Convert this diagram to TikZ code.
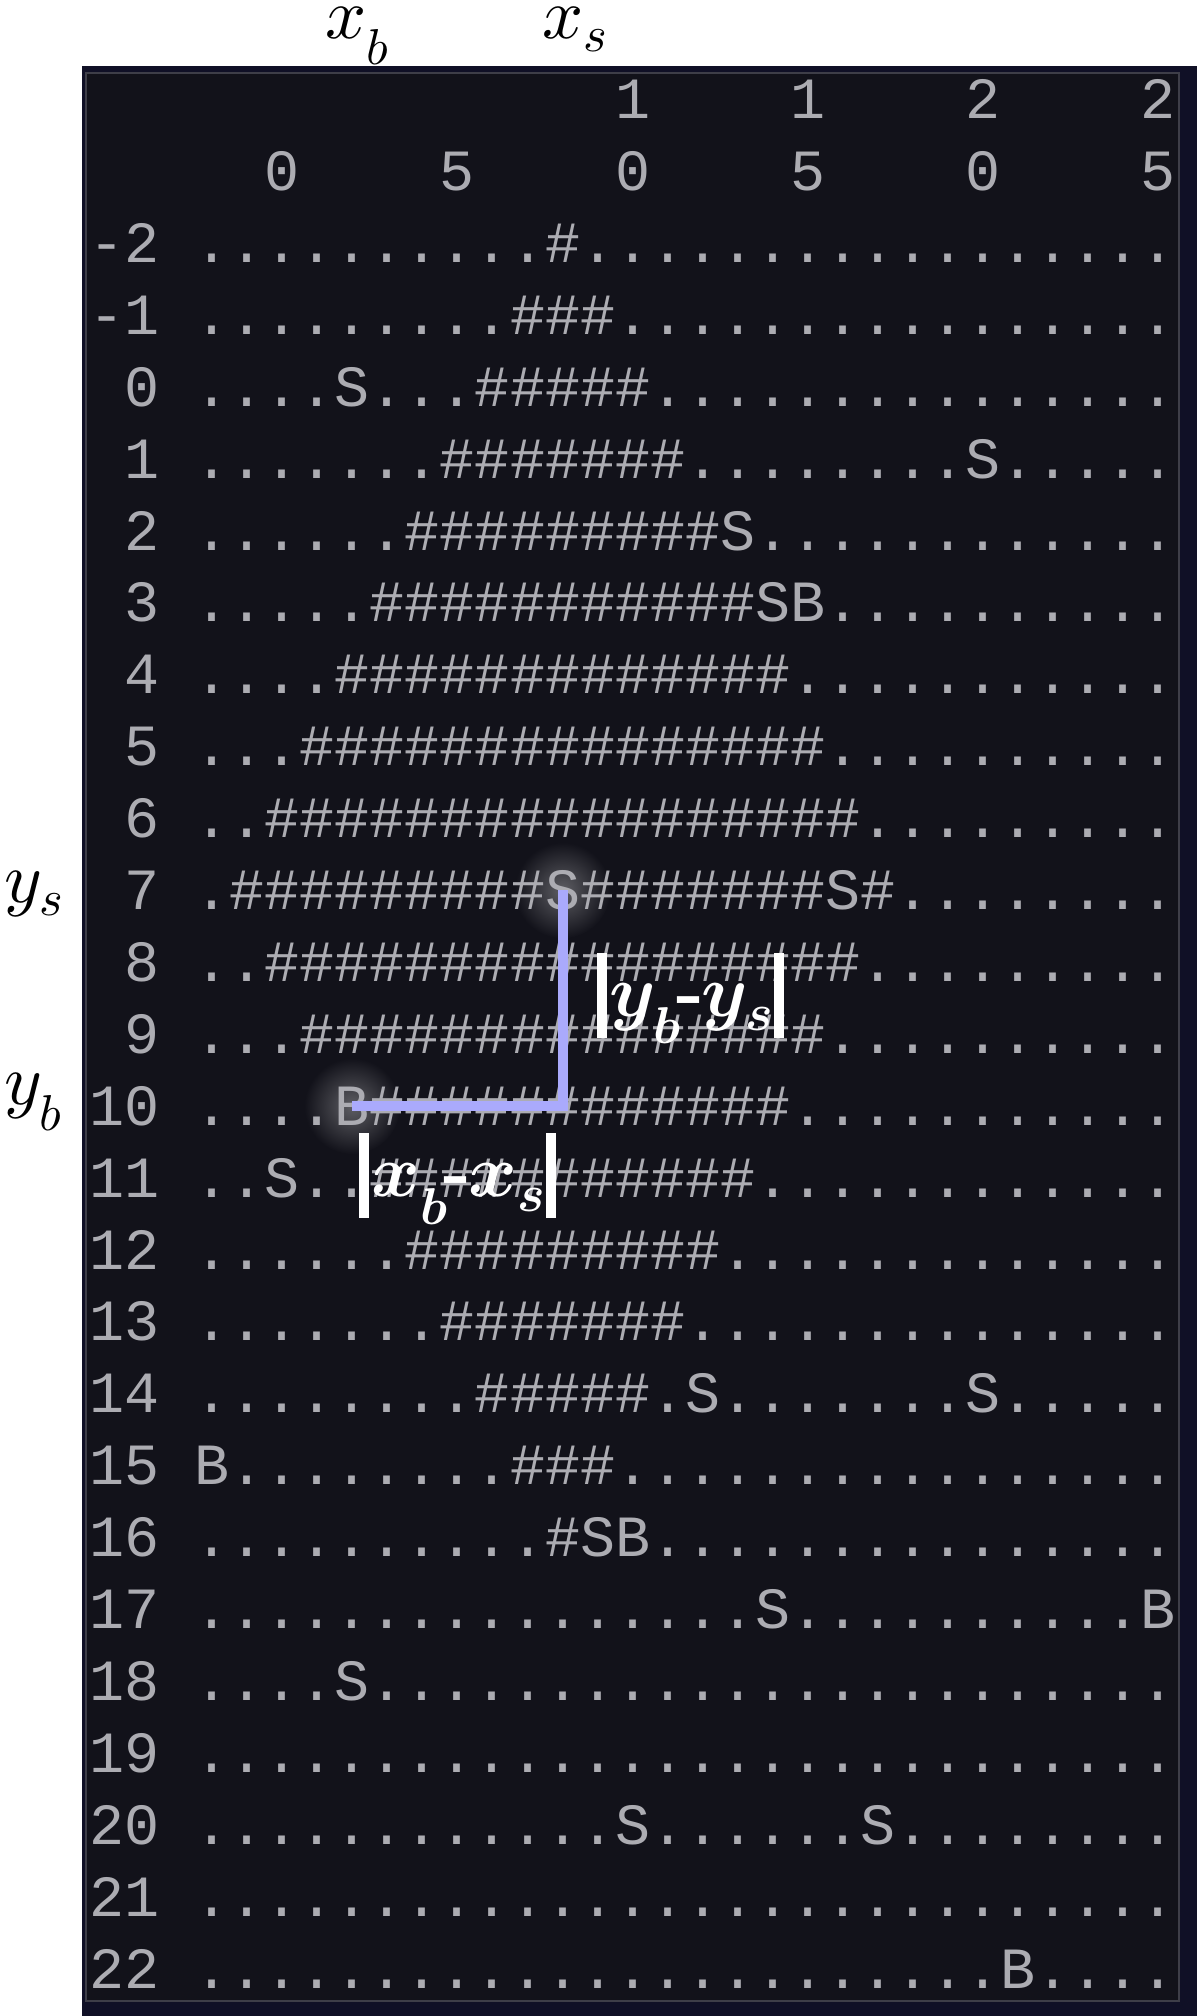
\documentclass[tikz,border=0pt]{standalone}
\usepackage{amsmath}
\usepackage{fontspec}
\usepackage{xcolor}
\usetikzlibrary{positioning}
% scalable math letters for the big labels
\DeclareFontShape{OML}{cmm}{m}{it}{<->cmmi10}{}
\DeclareFontShape{OML}{cmm}{b}{it}{<->cmmib10}{}
\newfontfamily\termfont{Liberation Mono}
\definecolor{termbg}{RGB}{18,18,26}
\definecolor{termframe}{RGB}{16,16,38}
\definecolor{termline}{RGB}{62,62,72}
\definecolor{termtext}{RGB}{172,172,178}
\definecolor{distblue}{RGB}{170,170,252}
% sensors and beacons, by column and row
\newcommand{\setcell}[3]{\expandafter\def\csname cell#1:#2\endcsname{#3}}
\setcell{2}{18}{S}\setcell{9}{16}{S}\setcell{13}{2}{S}\setcell{12}{14}{S}
\setcell{10}{20}{S}\setcell{14}{17}{S}\setcell{8}{7}{S}\setcell{2}{0}{S}
\setcell{0}{11}{S}\setcell{20}{14}{S}\setcell{17}{20}{S}\setcell{16}{7}{S}
\setcell{14}{3}{S}\setcell{20}{1}{S}
\setcell{-2}{15}{B}\setcell{10}{16}{B}\setcell{15}{3}{B}\setcell{2}{10}{B}
\setcell{25}{17}{B}\setcell{21}{22}{B}
\tikzset{
  termtxt/.style={termtext, inner sep=0pt, font=\termfont\fontsize{58.37}{70}\selectfont},
  cellchar/.style={termtxt, anchor=base},
  distlabel/.style={white, inner sep=0pt, font=\fontsize{74}{80}\selectfont},
  axislabel/.style={black, inner sep=0pt, anchor=base, font=\fontsize{72}{80}\selectfont}
}
\begin{document}
\begin{tikzpicture}[x=1pt, y=-1pt]
		\useasboundingbox (0,0) rectangle (1197,2016);
		\newcommand{\xo}{282.3}
		\newcommand{\dx}{35.03}
		\newcommand{\yo}{406.2}
		\newcommand{\dy}{71.9}
		
		\fill[termframe] (82,66) rectangle (1197,2016);
		\filldraw[fill=termbg, draw=termline, line width=1.5] (86,73) rectangle (1179,2001);
		
		% glow behind the chosen sensor and beacon
		\foreach \c/\r in {8/7, 2/10}
			\shade[inner color=white!32!termbg, outer color=termbg] ({\xo+\dx*\c},{\yo+\dy*\r-19}) circle (48);
		
		% column numbers
		\foreach \c/\t in {10/1, 15/1, 20/2, 25/2}
			\node[cellchar] (top\c) at ({\xo+\dx*\c},{\yo+\dy*(-4)}) {\t};
		\foreach \c/\t in {0/0, 5/5, 10/0, 15/5, 20/0, 25/5}
			\node[cellchar] (sub\c) at ({\xo+\dx*\c},{\yo+\dy*(-3)}) {\t};
		
		% row numbers and the map
		\foreach \r in {-2,...,22}{
			\node[termtxt, anchor=base east] (lab\r) at ({\xo-\dx*4+\dx/2},{\yo+\dy*\r}) {\r};
			\foreach \c in {-2,...,25}{
				\pgfmathtruncatemacro{\manh}{abs(\c-8)+abs(\r-7)}
				\ifcsname cell\c:\r\endcsname
					\expandafter\let\expandafter\cellch\csname cell\c:\r\endcsname
				\else
					\ifnum\manh<10 \def\cellch{\#}\else\def\cellch{.}\fi
				\fi
				\node[cellchar] (g\c r\r) at ({\xo+\dx*\c},{\yo+\dy*\r}) {\cellch};
			}
		}
		
		\coordinate (corner) at (g8r7.center |- g2r10.center);
		\draw[distblue, line width=10, line join=miter] (g8r7.center) -- (corner)
			node[midway, right=29pt, distlabel]{\rule[-21pt]{10pt}{85pt}\hspace{3pt}$\boldsymbol{y_b}\mkern-3mu$\textbf{-}$\mkern-2mu\boldsymbol{y_s}$\hspace{1pt}\rule[-21pt]{10pt}{85pt}}
			-- (g2r10.center)
			node[midway, below=22pt, distlabel]{\rule[-21pt]{10pt}{85pt}\hspace{3pt}$\boldsymbol{x_b}\mkern-3mu$\textbf{-}$\mkern-2mu\boldsymbol{x_s}$\hspace{1pt}\rule[-21pt]{10pt}{85pt}};
		
		\node[axislabel] (xb) at (357,38) {$x_b$};
		\node[axislabel] (xs) at (575,38) {$x_s$};
		\node[axislabel, anchor=base west] (ys) at (4,902) {$y_s$};
		\node[axislabel, anchor=base west] (yb) at (4,1104) {$y_b$};
	\end{tikzpicture}
\end{document}
